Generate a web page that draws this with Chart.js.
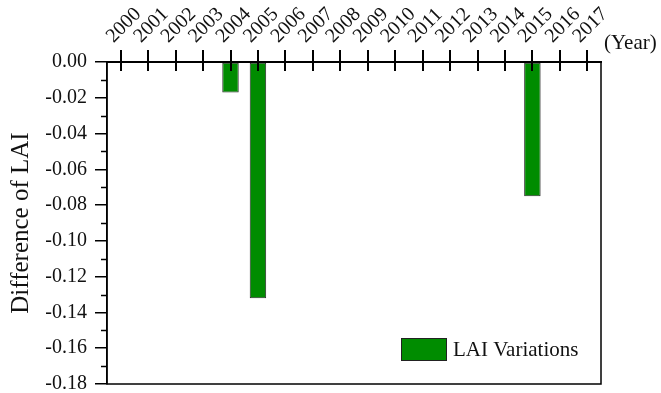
<!DOCTYPE html>
<html>
<head>
<meta charset="utf-8">
<script src="https://cdn.jsdelivr.net/npm/chart.js@4/dist/chart.umd.min.js"></script>
<style>
  html, body { margin: 0; padding: 0; background: #fff; }
  #wrap { width: 661px; height: 393px; }
</style>
</head>
<body>
<div id="wrap"><canvas id="c" width="661" height="393"></canvas></div>
<script>
// Years along the top axis
const years = ['2000','2001','2002','2003','2004','2005','2006','2007','2008',
               '2009','2010','2011','2012','2013','2014','2015','2016','2017'];
// Difference of LAI per year (null = no change)
const laiDiff = [null, null, null, null, -0.017, -0.132, null, null, null,
                 null, null, null, null, null, null, -0.075, null, -0.0005];
// Value axis range and ticks
const yMin = -0.18;
const yMax = 0;
const yStep = 0.02;
const seriesLabel = 'LAI Variations';

const serif = "'Liberation Serif', 'Times New Roman', 'DejaVu Serif', serif";

// Frame, crossing year ticks, minor value ticks, legend and unit text
const decorations = {
  id: 'decorations',
  afterDraw(chart) {
    const ctx = chart.ctx;
    const a = chart.chartArea;
    const x = chart.scales.x;
    const y = chart.scales.y;
    ctx.save();
    ctx.strokeStyle = '#000';
    // frame
    ctx.lineWidth = 1.5;
    ctx.strokeRect(a.left, a.top, a.right - a.left, a.bottom - a.top);
    ctx.lineWidth = 2;
    ctx.beginPath();
    ctx.moveTo(a.left - 1, a.top);
    ctx.lineTo(a.right + 1, a.top);
    ctx.stroke();
    // year ticks crossing the top axis
    ctx.lineWidth = 2;
    years.forEach((yr, i) => {
      const px = Math.round(x.getPixelForValue(i));
      ctx.beginPath();
      ctx.moveTo(px, a.top - 12);
      ctx.lineTo(px, a.top + 9);
      ctx.stroke();
    });
    // minor value ticks
    ctx.lineWidth = 1.5;
    for (let v = yMax - yStep / 2; v > yMin; v -= yStep) {
      const py = Math.round(y.getPixelForValue(v)) + 0.5;
      ctx.beginPath();
      ctx.moveTo(a.left - 6, py);
      ctx.lineTo(a.left, py);
      ctx.stroke();
    }
    // unit
    ctx.fillStyle = '#111';
    ctx.font = '21px ' + serif;
    ctx.textAlign = 'left';
    ctx.textBaseline = 'middle';
    ctx.fillText('(Year)', a.right + 3, 43);
    // legend
    const ds = chart.data.datasets[0];
    const lx = 401, ly = 338;
    ctx.fillStyle = ds.backgroundColor;
    ctx.fillRect(lx, ly, 46, 23);
    ctx.lineWidth = 1;
    ctx.strokeStyle = '#222';
    ctx.strokeRect(lx + 0.5, ly + 0.5, 45, 22);
    ctx.fillStyle = '#111';
    ctx.font = '21px ' + serif;
    ctx.fillText(ds.label, lx + 52, ly + 12);
    ctx.restore();
  }
};

new Chart(document.getElementById('c'), {
  type: 'bar',
  data: {
    labels: years,
    datasets: [{
      label: seriesLabel,
      data: laiDiff,
      backgroundColor: '#008c00',
      borderColor: '#2a2a2a',
      borderWidth: 1,
      borderSkipped: false,
      barPercentage: 0.6,
      categoryPercentage: 1.0
    }]
  },
  options: {
    responsive: false,
    animation: false,
    layout: { padding: { left: 6, right: 60, top: 0, bottom: 9 } },
    plugins: { legend: { display: false }, tooltip: { enabled: false } },
    scales: {
      x: {
        position: 'top',
        offset: true,
        grid: { display: false, drawTicks: false },
        border: { display: false },
        ticks: {
          color: '#111',
          font: { family: serif, size: 20 },
          minRotation: 45,
          maxRotation: 45,
          autoSkip: false,
          padding: 14,
          labelOffset: 6
        },
        afterFit(scale) {
          scale.height = 62;
          scale.paddingLeft = 0;
          scale.paddingRight = 0;
        }
      },
      y: {
        min: yMin,
        max: yMax,
        grid: { drawOnChartArea: false, drawTicks: true, tickLength: 12, color: '#000', lineWidth: 1.5 },
        border: { display: true, color: '#000', width: 1.5 },
        ticks: {
          stepSize: yStep,
          color: '#111',
          font: { family: serif, size: 20 },
          padding: 8,
          callback: (v) => (Math.abs(v) < 1e-9 ? 0 : v).toFixed(2)
        },
        title: {
          display: true,
          text: 'Difference of LAI',
          color: '#111',
          font: { family: serif, size: 25 },
          padding: { top: 0, bottom: 0 }
        },
        afterFit(scale) {
          scale.width = 101;
          scale.paddingTop = 0;
          scale.paddingBottom = 0;
        }
      }
    }
  },
  plugins: [decorations]
});
</script>
</body>
</html>
